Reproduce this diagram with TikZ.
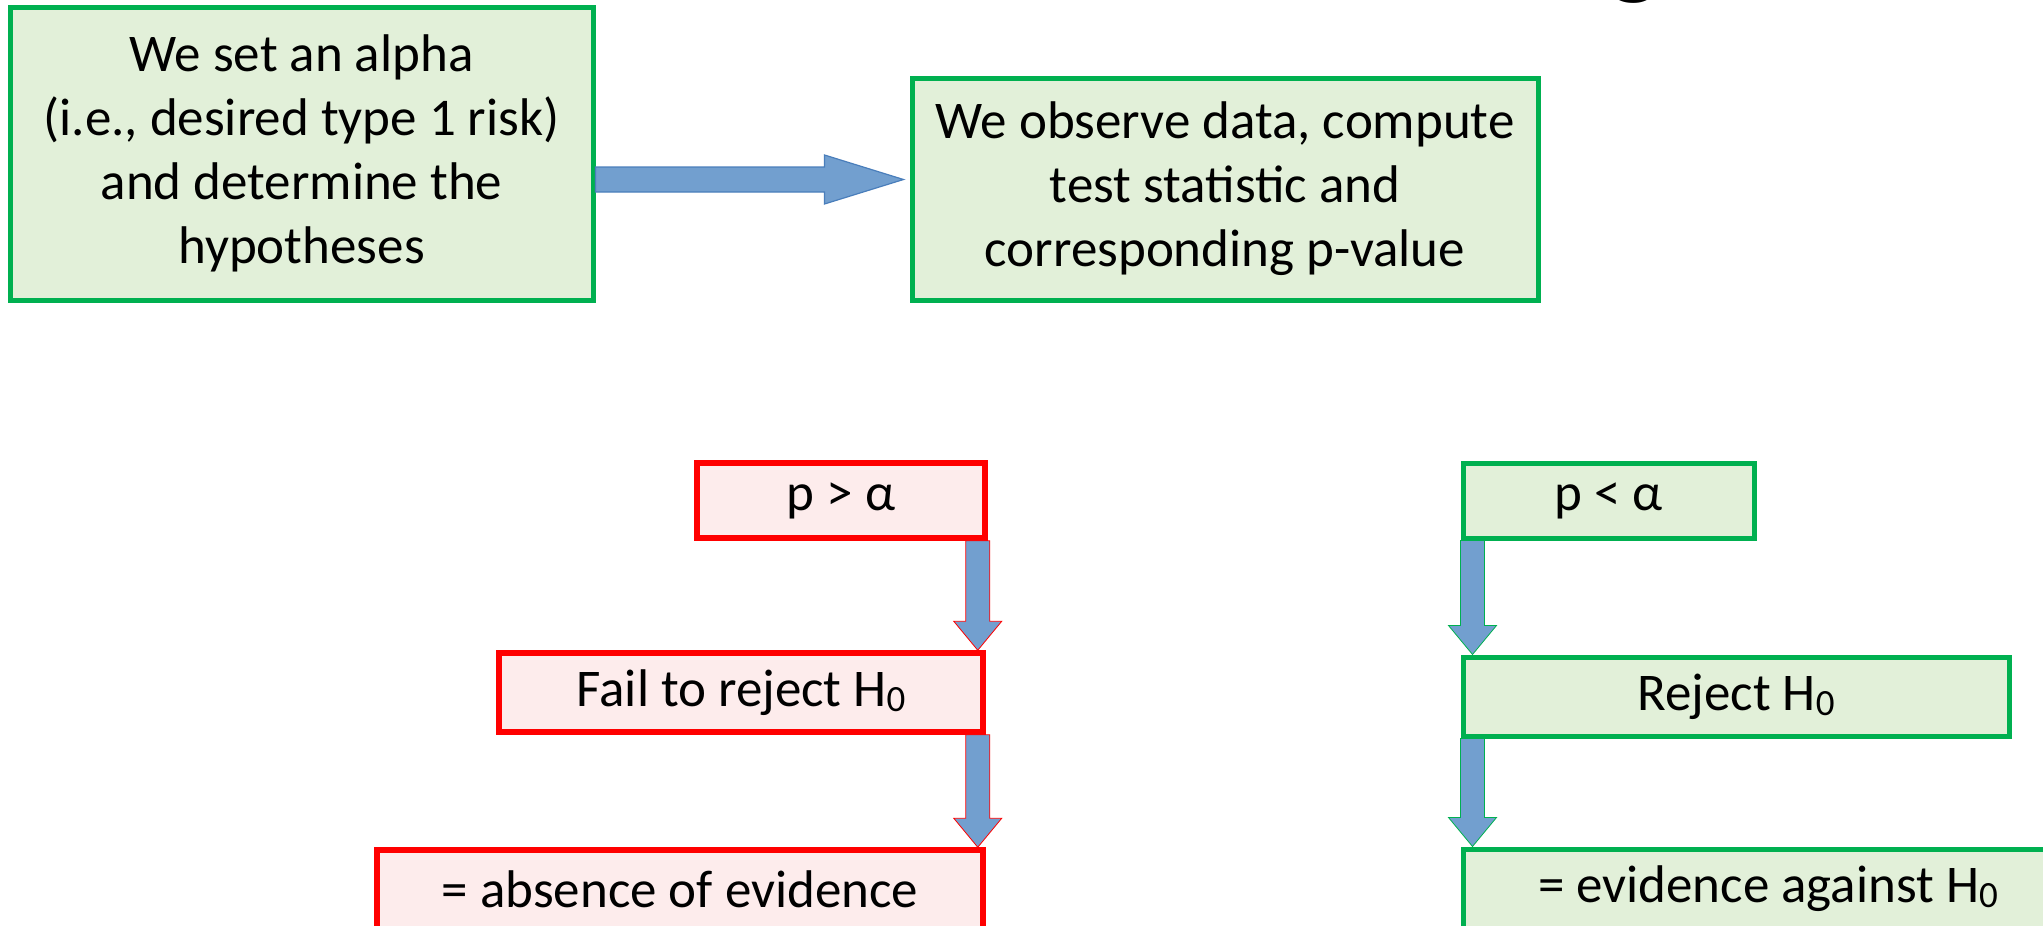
\documentclass[tikz,border=0pt]{standalone}
\usepackage{fontspec}
\setmainfont{Carlito}
\usetikzlibrary{calc}
\definecolor{gborder}{HTML}{00B050}
\definecolor{gfill}{HTML}{E2F0D9}
\definecolor{rborder}{HTML}{FF0000}
\definecolor{rfill}{HTML}{FDECEC}
\definecolor{afill}{HTML}{729FCF}
\definecolor{aline}{HTML}{4A7EBB}
\newcommand\subzero{\raisebox{-0.1em}{\fontsize{37}{37}\selectfont 0}}
\begin{document}
\begin{tikzpicture}[x=1pt,y=-1pt,
  box/.style={draw, line width=5pt, inner sep=0pt, align=center,
    font=\fontsize{53}{64}\selectfont},
  gbox/.style={box, draw=gborder, fill=gfill},
  rbox/.style={box, draw=rborder, fill=rfill, line width=5.5pt},
  barrow/.style={fill=afill, draw=aline, line width=1.2pt, line join=miter},
  rarrow/.style={fill=afill, draw=rborder, line width=0.8pt, line join=miter},
  garrow/.style={fill=afill, draw=gborder, line width=0.8pt, line join=miter},
]
\useasboundingbox (0,0) rectangle (2043,926);
\clip (0,0) rectangle (2043,926);

\node[font=\fontsize{110}{110}\selectfont, anchor=base west, inner sep=0pt] (title) at (1608,-15) {g};

\node[gbox, minimum width=583, minimum height=293] (b1) at (301.5,153.5)
  {We set an alpha\\(i.e., desired type 1 risk)\\and determine the\\hypotheses};
\node[gbox, minimum width=626, minimum height=222] (b2) at (1225,189)
  {We observe data, compute\\test statistic and\\corresponding p-value};

\node[rbox, minimum width=288, minimum height=75] (pgt) at (841,500.5) {p > α};
\node[rbox, minimum width=484, minimum height=79] (fail) at (741,692.5) {Fail to reject H\subzero};
\node[rbox, minimum width=606, minimum height=79] (absence) at (680,889.5) {= absence of evidence};

\node[gbox, minimum width=291, minimum height=75] (plt) at (1608.5,500.5) {p < α};
\node[gbox, minimum width=546, minimum height=79] (reject) at (1736,696.5) {Reject H\subzero};
\node[gbox, minimum width=610, minimum height=79] (evid) at (1768,888.5) {= evidence against H\subzero};

% horizontal block arrow
\coordinate (a1s) at ($(b1.east)+(0,26)$);
\coordinate (a1e) at ($(b2.west)+(-6,-9.5)$);
\draw[barrow] ($(a1s)+(0,-12.5)$) -- ($(a1e)+(-79,-12.5)$) -- ($(a1e)+(-79,-24.5)$) -- (a1e)
  -- ($(a1e)+(-79,24.5)$) -- ($(a1e)+(-79,12.5)$) -- ($(a1s)+(0,12.5)$) -- cycle;

% vertical block arrows
\coordinate (s1) at ($(pgt.south east)+(-10,0)$);
\coordinate (t1) at ($(fail.north east)+(-8,0)$);
\coordinate (s2) at ($(fail.south east)+(-8,0)$);
\coordinate (t2) at ($(absence.north east)+(-8,0)$);
\coordinate (s3) at ($(plt.south west)+(12,0)$);
\coordinate (t3) at ($(reject.north west)+(12,0)$);
\coordinate (s4) at ($(reject.south west)+(12,0)$);
\coordinate (t4) at ($(evid.north west)+(12,0)$);

\foreach \s/\t/\st in {s1/t1/rarrow, s2/t2/rarrow, s3/t3/garrow, s4/t4/garrow}{
  \draw[\st] ($(\s)+(-12,0)$) -- ($(\t)+(-12,-29)$) -- ($(\t)+(-24,-29)$) -- (\t)
    -- ($(\t)+(24,-29)$) -- ($(\t)+(12,-29)$) -- ($(\s)+(12,0)$) -- cycle;
}
\end{tikzpicture}
\end{document}
